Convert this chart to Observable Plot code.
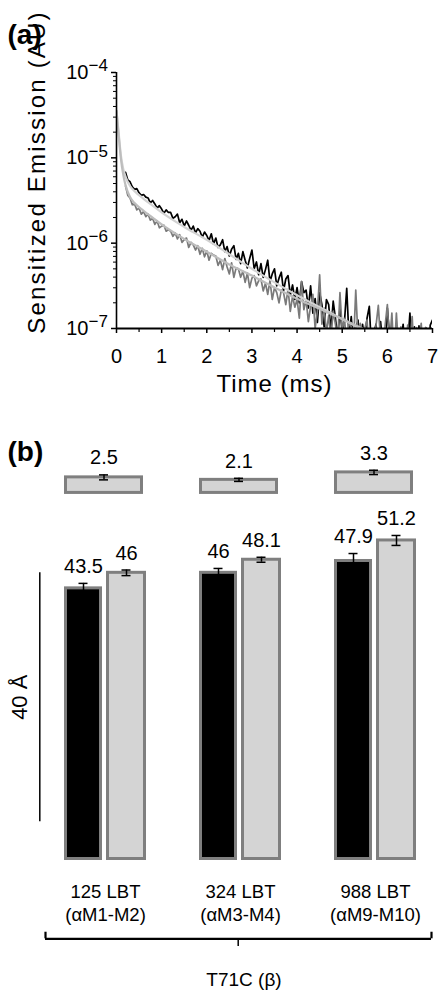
<!DOCTYPE html>
<html>
<head>
<meta charset="utf-8">
<script src="https://cdn.jsdelivr.net/npm/d3@7"></script>
<script src="https://cdn.jsdelivr.net/npm/@observablehq/plot@0.6"></script>
<style>
  html, body { margin: 0; padding: 0; background: #fff; }
  #chart { width: 448px; }
  #chart svg { display: block; }
</style>
</head>
<body>
<div id="chart"></div>
<script>
// ---------------- Panel (a): sensitized emission decay ----------------
// Samples are evenly spaced in time starting at sampleStart (ms).
const sampleStart = 0.2;
const sampleStep = 0.05;
// log10 of emission (AU)
const blackLogEmission = [
  -5.17,-5.26,-5.28,-5.34,-5.37,-5.36,-5.41,-5.44,-5.43,-5.46,
  -5.47,-5.53,-5.50,-5.54,-5.59,-5.56,-5.60,-5.65,-5.61,-5.64,
  -5.64,-5.71,-5.69,-5.66,-5.76,-5.72,-5.80,-5.74,-5.79,-5.85,
  -5.80,-5.88,-5.83,-5.86,-5.93,-5.87,-5.91,-5.97,-5.89,-6.01,
  -5.94,-6.05,-6.02,-5.96,-6.10,-6.04,-6.15,-6.07,-6.03,-6.19,
  -6.12,-6.24,-6.10,-6.20,-6.29,-6.18,-6.08,-6.30,-6.22,-6.37,
  -6.24,-6.40,-6.31,-6.20,-6.45,-6.36,-6.30,-6.50,-6.41,-6.34,
  -6.56,-6.42,-6.38,-6.61,-6.49,-6.66,-6.52,-6.70,-6.45,-6.58,
  -6.55,-6.76,-6.50,-6.82,-6.65,-6.93,-6.58,-6.72,-6.98,-6.66,
  -6.72,-7.02,-6.68,-6.88,-7.12,-6.76,-7.05,-6.92,-6.53,-7.10,
  -6.86,-7.20,-7.02,-6.90,-7.28,-6.95,-7.12,-6.88,-6.74,-7.25,
  -7.05,-6.95,-7.32,-6.92,-7.18,-7.30,-6.76,-7.10,-6.96,-7.35,
  -6.97,-7.30,-7.15,-6.95,-7.38,-7.20,-6.82,-7.30,-6.98,-7.40,
  -6.97,-7.30,-7.12,-6.99,-7.35,-6.96,-6.90
];
const grayLogEmission = [
  -5.33,-5.44,-5.47,-5.55,-5.54,-5.61,-5.59,-5.66,-5.63,-5.69,
  -5.66,-5.73,-5.71,-5.78,-5.74,-5.82,-5.80,-5.79,-5.86,-5.84,
  -5.86,-5.92,-5.88,-5.95,-5.90,-5.99,-5.96,-5.94,-6.05,-5.99,
  -6.02,-6.08,-6.03,-6.13,-6.06,-6.16,-6.09,-6.20,-6.12,-6.14,
  -6.15,-6.26,-6.20,-6.31,-6.18,-6.28,-6.36,-6.23,-6.40,-6.29,
  -6.30,-6.40,-6.33,-6.46,-6.35,-6.52,-6.41,-6.38,-6.50,-6.44,
  -6.42,-6.56,-6.47,-6.60,-6.44,-6.66,-6.52,-6.58,-6.70,-6.55,
  -6.58,-6.72,-6.54,-6.80,-6.62,-6.75,-6.66,-6.88,-6.45,-6.78,
  -6.66,-6.92,-6.74,-6.60,-7.00,-6.80,-6.37,-6.95,-6.76,-7.05,
  -6.85,-7.10,-6.80,-6.95,-7.15,-6.58,-7.02,-6.88,-7.20,-6.92,
  -6.98,-7.20,-6.55,-7.10,-6.94,-7.25,-7.00,-6.90,-7.30,-7.05,
  -7.20,-6.96,-6.73,-7.15,-7.30,-6.97,-6.72,-7.20,-6.82,-7.35,
  -6.82,-7.25,-6.98,-7.10,-7.35,-6.96,-7.20,-6.86,-7.40,-6.99,
  -7.20,-6.94,-7.35,-6.99,-7.25,-7.40,-7.35
];
// fitted decays (time in ms, log10 emission)
const blackFitTime = [0, 0.05, 0.1, 0.15, 0.2, 0.3, 0.4, 0.6, 0.8, 1.0, 1.5, 2.0, 2.5, 3.0, 3.5, 4.0, 4.5, 5.0, 5.4];
const blackFitLog  = [-4.45, -4.72, -4.98, -5.13, -5.22, -5.33, -5.39, -5.48, -5.56, -5.64, -5.81, -5.96, -6.13, -6.30, -6.46, -6.61, -6.75, -6.89, -7.0];
const grayFitTime  = [0, 0.05, 0.1, 0.15, 0.2, 0.3, 0.4, 0.6, 0.8, 1.0, 1.5, 2.0, 2.5, 3.0, 3.5, 4.0, 4.5, 5.0, 5.45];
const grayFitLog   = [-4.45, -4.75, -5.02, -5.20, -5.32, -5.46, -5.53, -5.62, -5.70, -5.78, -5.95, -6.10, -6.25, -6.38, -6.52, -6.65, -6.77, -6.89, -7.0];

const xTicks = [0, 1, 2, 3, 4, 5, 6, 7];
const xMinorTicks = [0.5, 1.5, 2.5, 3.5, 4.5, 5.5, 6.5];
const yTicks = [1e-4, 1e-5, 1e-6, 1e-7];
const yTickBase = ["10", "10", "10", "10"];
const yTickExponents = ["\u22124", "\u22125", "\u22126", "\u22127"];
const xLabelA = "Time (ms)";
const yLabelA = "Sensitized Emission (AU)";

// ---------------- Panel (b): distances ----------------
const categories = ["125 LBT", "324 LBT", "988 LBT"];
const regions = ["(\u03b1M1-M2)", "(\u03b1M3-M4)", "(\u03b1M9-M10)"];
const distanceBlack = [43.5, 46, 47.9];
const errorBlack = [0.8, 0.7, 1.2];
const distanceGray = [46, 48.1, 51.2];
const errorGray = [0.45, 0.4, 0.8];
const distanceChange = [2.5, 2.1, 3.3];
const errorChange = [0.4, 0.25, 0.35];
const scaleBarLength = [40];
const scaleBarLabel = "40 \u00c5";
const groupLabel = "T71C (\u03b2)";

// ---------- build tables ----------
const blackPoints = blackLogEmission.map((e, i) => ({t: sampleStart + i * sampleStep, v: 10 ** e}));
const grayPoints = grayLogEmission.map((e, i) => ({t: sampleStart + i * sampleStep, v: 10 ** e}));
const blackFit = blackFitTime.map((t, i) => ({t, v: 10 ** blackFitLog[i]}));
const grayFit = grayFitTime.map((t, i) => ({t, v: 10 ** grayFitLog[i]}));
const yMinorTicks = [-7, -6, -5].flatMap(k => [2, 3, 4, 5, 6, 7, 8, 9].map(m => m * 10 ** k));
const yTickRows = yTicks.map((v, i) => ({v, base: yTickBase[i], exp: yTickExponents[i]}));

const FONT = "'Liberation Sans', Arial, Helvetica, sans-serif";

const plotA = Plot.plot({
  width: 448, height: 400,
  marginLeft: 116, marginRight: 16, marginTop: 72, marginBottom: 72,
  x: {domain: [0, 7], axis: null},
  y: {type: "log", domain: [1e-7, 1e-4], axis: null},
  style: {fontFamily: FONT, color: "#000", background: "#fff", overflow: "visible"},
  marks: [
    Plot.line(blackPoints, {x: "t", y: "v", stroke: "#000", strokeWidth: 1.7, clip: true}),
    Plot.line(grayPoints, {x: "t", y: "v", stroke: "#7a7a7a", strokeWidth: 1.7, clip: true}),
    Plot.line(blackFit, {x: "t", y: "v", stroke: "#d2d2d2", strokeWidth: 2.2, curve: "monotone-x", clip: true}),
    Plot.line(grayFit, {x: "t", y: "v", stroke: "#bdbdbd", strokeWidth: 2.2, curve: "monotone-x", clip: true}),
    Plot.ruleX([0], {stroke: "#000", strokeWidth: 1.6}),
    Plot.ruleY([1e-7], {stroke: "#000", strokeWidth: 2}),
    Plot.axisX(xTicks, {anchor: "bottom", tickSize: 5, tickPadding: 15, fontSize: 20, label: null, tickFormat: d => String(d), strokeWidth: 1.5}),
    Plot.axisX(xMinorTicks, {anchor: "bottom", tickSize: 4, tickFormat: () => "", label: null, strokeWidth: 1.2}),
    Plot.axisY(yTicks, {anchor: "left", tickSize: 5, tickFormat: () => "", label: null, strokeWidth: 1.5}),
    Plot.axisY(yMinorTicks, {anchor: "left", tickSize: 3, tickFormat: () => "", label: null, strokeWidth: 1}),
    Plot.text(yTickRows, {x: () => 0, y: "v", text: "base", textAnchor: "end", dx: -28, fontSize: 20}),
    Plot.text(yTickRows, {x: () => 0, y: "v", text: "exp", textAnchor: "start", dx: -28, dy: -6.5, fontSize: 17}),
    Plot.text([xLabelA], {frameAnchor: "bottom", textAnchor: "middle", dy: 63.5, fontSize: 24}),
    Plot.text([yLabelA], {frameAnchor: "left", textAnchor: "middle", rotate: -90, dx: -78.7, dy: -28.5, fontSize: 24}),
    Plot.text(["(a)"], {frameAnchor: "top-left", textAnchor: "start", dx: -109, dy: -48, fontSize: 28, fontWeight: "bold"})
  ]
});

const rows = categories.map((c, i) => ({
  cat: c,
  black: distanceBlack[i], eb: errorBlack[i],
  gray: distanceGray[i], eg: errorGray[i],
  diff: distanceChange[i], ed: errorChange[i]
}));
const regionByCategory = new Map(categories.map((c, i) => [c, regions[i]]));

// layout constants for panel (b) annotations (in Å along the y scale)
const DIFF_BASE = 58.84;
const SCALE_BAR_BASE = 6.0;
const BRACKET_Y = -12.83;
const BRACKET_TIP = -11.77;
const BRACKET_NOTCH = -14.07;
const GROUP_LABEL_Y = -19.5;
const BAR_STROKE = "#7f7f7f";
const LIGHT = "#d4d4d4";

const plotB = Plot.plot({
  width: 448, height: 599,
  marginLeft: 64, marginRight: 32, marginTop: 23, marginBottom: 140.5,
  x: {domain: categories, paddingInner: 0.3926, paddingOuter: 0, axis: null},
  y: {domain: [0, 70], axis: null},
  style: {fontFamily: FONT, color: "#000", background: "#fff", overflow: "visible"},
  marks: [
    // main bars
    Plot.barY(rows, {x: "cat", y: "black", fill: "#000", stroke: BAR_STROKE, strokeWidth: 3, insetLeft: 1.5, insetRight: 45.5}),
    Plot.barY(rows, {x: "cat", y: "gray", fill: LIGHT, stroke: BAR_STROKE, strokeWidth: 3, insetLeft: 43.5, insetRight: 1.5}),
    // difference bars
    Plot.barY(rows, {x: "cat", y1: () => DIFF_BASE, y2: d => DIFF_BASE + d.diff, fill: LIGHT, stroke: BAR_STROKE, strokeWidth: 3, insetLeft: 1.5, insetRight: 4.5}),
    // error bars
    Plot.ruleX(rows, {x: "cat", y1: d => d.black - d.eb, y2: d => d.black + d.eb, dx: -22, stroke: "#000", strokeWidth: 1.5}),
    Plot.tickY(rows, {x: "cat", y: d => d.black + d.eb, insetLeft: 14.5, insetRight: 58.5, stroke: "#000", strokeWidth: 1.5}),
    Plot.ruleX(rows, {x: "cat", y1: d => d.gray - d.eg, y2: d => d.gray + d.eg, dx: 21, stroke: "#000", strokeWidth: 1.5}),
    Plot.tickY(rows, {x: "cat", y: d => d.gray + d.eg, insetLeft: 57.5, insetRight: 15.5, stroke: "#000", strokeWidth: 1.5}),
    Plot.tickY(rows, {x: "cat", y: d => d.gray - d.eg, insetLeft: 57.5, insetRight: 15.5, stroke: "#000", strokeWidth: 1.5}),
    Plot.ruleX(rows, {x: "cat", y1: d => DIFF_BASE + d.diff - d.ed, y2: d => DIFF_BASE + d.diff + d.ed, dx: -1.5, stroke: "#000", strokeWidth: 1.5}),
    Plot.tickY(rows, {x: "cat", y: d => DIFF_BASE + d.diff + d.ed, insetLeft: 35, insetRight: 38, stroke: "#000", strokeWidth: 1.5}),
    Plot.tickY(rows, {x: "cat", y: d => DIFF_BASE + d.diff - d.ed, insetLeft: 35, insetRight: 38, stroke: "#000", strokeWidth: 1.5}),
    // value labels
    Plot.text(rows, {x: "cat", y: d => d.black + d.eb, text: d => String(d.black), dx: -22, dy: -16.5, fontSize: 20}),
    Plot.text(rows, {x: "cat", y: d => d.gray + d.eg, text: d => String(d.gray), dx: 21, dy: -16.5, fontSize: 20}),
    Plot.text(rows, {x: "cat", y: d => DIFF_BASE + d.diff + d.ed, text: d => String(d.diff), dx: -1.5, dy: -17, fontSize: 20}),
    // category axis
    Plot.axisX({anchor: "bottom", tickSize: 0, tickPadding: 23.2, fontSize: 18.5, lineHeight: 1.23, label: null,
      tickFormat: d => `${d}\n${regionByCategory.get(d)}`}),
    // 40 Å scale bar
    Plot.ruleX(scaleBarLength, {x: () => categories[0], y1: () => SCALE_BAR_BASE, y2: d => SCALE_BAR_BASE + d, dx: -65.7, stroke: "#000", strokeWidth: 1.5}),
    Plot.text(scaleBarLength, {x: () => categories[0], y: d => SCALE_BAR_BASE + d / 2, text: () => scaleBarLabel, rotate: -90, dx: -86, fontSize: 22}),
    // bracket under the groups
    Plot.ruleY([BRACKET_Y], {insetLeft: -19, insetRight: -15, stroke: "#000", strokeWidth: 2.2}),
    Plot.ruleX([categories[0]], {x: d => d, y1: () => BRACKET_Y, y2: () => BRACKET_TIP, dx: -60, stroke: "#000", strokeWidth: 2.2}),
    Plot.ruleX([categories[2]], {x: d => d, y1: () => BRACKET_Y, y2: () => BRACKET_TIP, dx: 56, stroke: "#000", strokeWidth: 2.2}),
    Plot.ruleX([categories[1]], {x: d => d, y1: () => BRACKET_Y, y2: () => BRACKET_NOTCH, dx: -2.3, stroke: "#000", strokeWidth: 1.5}),
    Plot.text([groupLabel], {x: () => categories[1], y: () => GROUP_LABEL_Y, dx: 3.5, fontSize: 19}),
    Plot.text(["(b)"], {frameAnchor: "top-left", textAnchor: "start", dx: -57, dy: 18, fontSize: 28, fontWeight: "bold"})
  ]
});

const chart = document.getElementById("chart");
chart.appendChild(plotA);
chart.appendChild(plotB);

// stretch the axis titles along their length, as in the reference
d3.select(plotA).selectAll("text")
  .filter(function () { return this.textContent === yLabelA; })
  .style("letter-spacing", "2.2px");
d3.select(plotA).selectAll("text")
  .filter(function () { return this.textContent === xLabelA; })
  .style("letter-spacing", "1px");
</script>
</body>
</html>
